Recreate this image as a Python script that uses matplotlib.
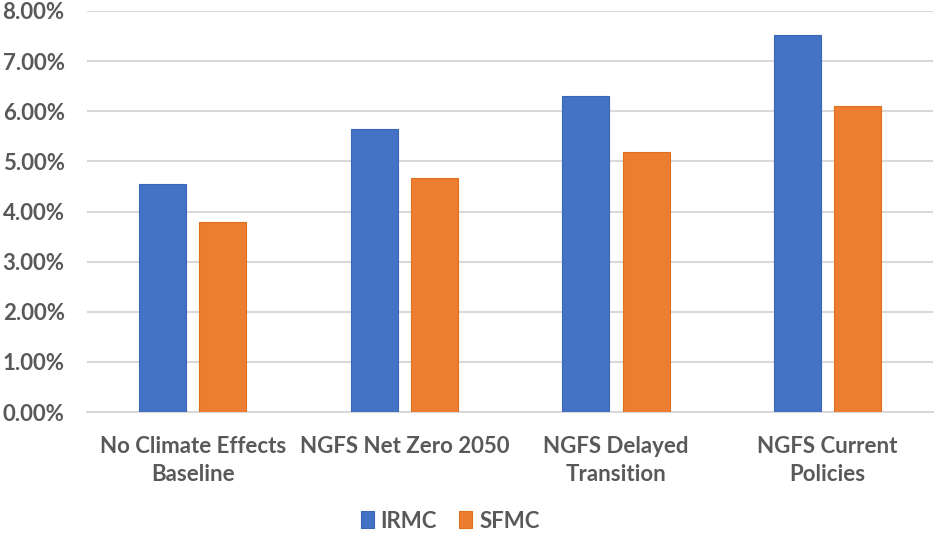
import numpy as np
import matplotlib
matplotlib.use("Agg")
import matplotlib.pyplot as plt
from matplotlib.ticker import FuncFormatter, MultipleLocator

categories = ["No Climate Effects\nBaseline", "NGFS Net Zero 2050",
              "NGFS Delayed\nTransition", "NGFS Current\nPolicies"]
irmc = [4.54, 5.65, 6.30, 7.52]
sfmc = [3.79, 4.66, 5.18, 6.11]

blue = "#4472C4"
orange = "#ED7D31"
grey_text = "#595959"

plt.rcParams['font.family'] = ['Lato', 'DejaVu Sans']
plt.rcParams['font.weight'] = 'bold'

fig = plt.figure(figsize=(9.35, 5.39), dpi=100)
ax = fig.add_axes([0.093, 0.2356, 0.905, 0.744])

x = np.arange(len(categories))
w = 0.222
ax.bar(x - 0.143, irmc, w, color=blue, edgecolor="#3A66B8", linewidth=0.8, label="IRMC", zorder=3)
ax.bar(x + 0.143, sfmc, w, color=orange, edgecolor="#E0701F", linewidth=0.8, label="SFMC", zorder=3)

ax.set_xlim(-0.5, len(categories) - 0.5)
ax.set_ylim(0, 8)
ax.yaxis.set_major_locator(MultipleLocator(1))
ax.yaxis.set_major_formatter(FuncFormatter(lambda v, p: "{:.2f}%".format(v)))
ax.grid(axis="y", color="#D9D9D9", linewidth=1.5, zorder=0)
ax.set_xticks(x)
ax.set_xticklabels(categories, linespacing=1.45)

for s in ["top", "right", "left"]:
    ax.spines[s].set_visible(False)
ax.spines["bottom"].set_color("#D9D9D9")
ax.spines["bottom"].set_linewidth(1.5)

ax.tick_params(axis="both", length=0, labelsize=16, labelcolor=grey_text)
ax.tick_params(axis="y", pad=16)
ax.tick_params(axis="x", pad=17)

fig.legend(loc="center", bbox_to_anchor=(450 / 935, 1 - 521 / 539), ncol=2,
           frameon=False, fontsize=16, handlelength=0.6, handleheight=0.8,
           handletextpad=0.3, columnspacing=1.0, labelcolor=grey_text)

fig.savefig("out.png", dpi=100)
